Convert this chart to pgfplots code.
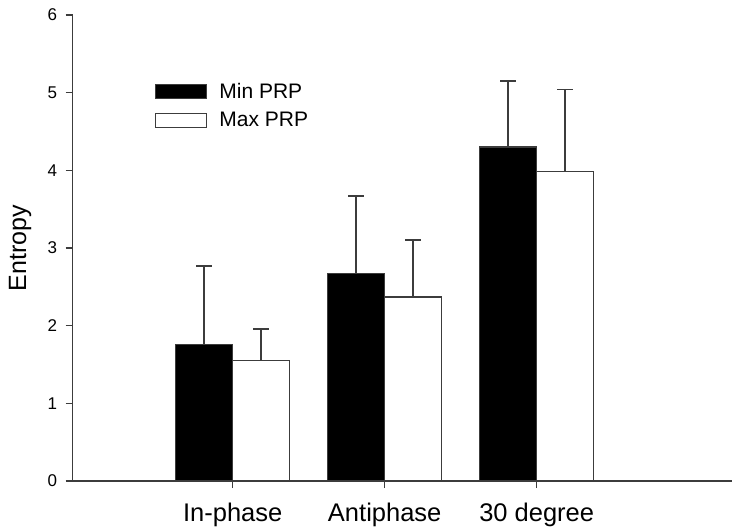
\documentclass[border=0pt]{standalone}
\usepackage{fontspec}
\setmainfont{Liberation Sans}
\usepackage{pgfplots}
\pgfplotsset{compat=1.18}
\usetikzlibrary{calc}
\definecolor{ln}{HTML}{3C3C3C}
\begin{document}
\begin{tikzpicture}
\begin{axis}[
  scale only axis, width=659.3bp, height=466bp,
  xmin=-0.0526, xmax=4.285, ymin=0, ymax=6,
  axis x line*=bottom, axis y line*=left,
  axis line style={ln, line width=1.3bp},
  ytick={0,1,2,3,4,5,6},
  xtick={1,2,3}, xticklabels={In-phase,Antiphase,30 degree},
  tick align=outside, major tick length=7bp,
  tick style={ln, line width=1.3bp},
  /pgf/number format/assume math mode=true,
  yticklabel style={font=\fontsize{17bp}{20bp}\selectfont, xshift=-5bp},
  xticklabel style={font=\fontsize{25.5bp}{30bp}\selectfont, yshift=-12bp},
  ylabel={Entropy},
  every axis y label/.style={at={(rel axis cs:0,0.5)}, xshift=-52.7bp, rotate=90, anchor=center, font=\fontsize{25bp}{30bp}\selectfont},
  clip=false,
  legend style={at={(rel axis cs:0.1248,0.8534)}, anchor=north west, draw=none, fill=none, inner sep=0pt,
    font=\fontsize{21bp}{25bp}\selectfont, row sep=12bp,
    nodes={inner sep=0pt},
    /tikz/every odd column/.append style={column sep=12bp}},
  legend cell align=left,
]
\coordinate (O) at (rel axis cs:0,0);
\addplot[ybar, bar width=0.375, bar shift=0pt, fill=black, draw=ln, line width=1.2bp,
  legend image code/.code={\draw[fill=black, draw=ln, line width=1.2bp] (0bp,-7bp) rectangle (51bp,7bp);},
  error bars/.cd, y dir=plus, y explicit,
  error bar style={ln, line width=1.5bp},
  error mark options={rotate=90, ln, mark size=8bp, line width=1.5bp}]
  table[x=x, y=y, y error=e] {
x y e
0.8125 1.76 1.01
1.8125 2.67 1.00
2.8125 4.30 0.85
};
\addlegendentry{Min PRP}
\addplot[ybar, bar width=0.375, bar shift=0pt, fill=white, draw=ln, line width=1.2bp,
  legend image code/.code={\draw[fill=white, draw=ln, line width=1.2bp] (0bp,-7bp) rectangle (51bp,7bp);},
  error bars/.cd, y dir=plus, y explicit,
  error bar style={ln, line width=1.5bp},
  error mark options={rotate=90, ln, mark size=8bp, line width=1.5bp}]
  table[x=x, y=y, y error=e] {
x y e
1.1875 1.55 0.41
2.1875 2.37 0.73
3.1875 3.98 1.06
};
\addlegendentry{Max PRP}
\end{axis}
\pgfresetboundingbox
\path[use as bounding box] ($(O)+(-72.7bp,-50bp)$) rectangle ($(O)+(659.3bp,481bp)$);
\end{tikzpicture}
\end{document}
